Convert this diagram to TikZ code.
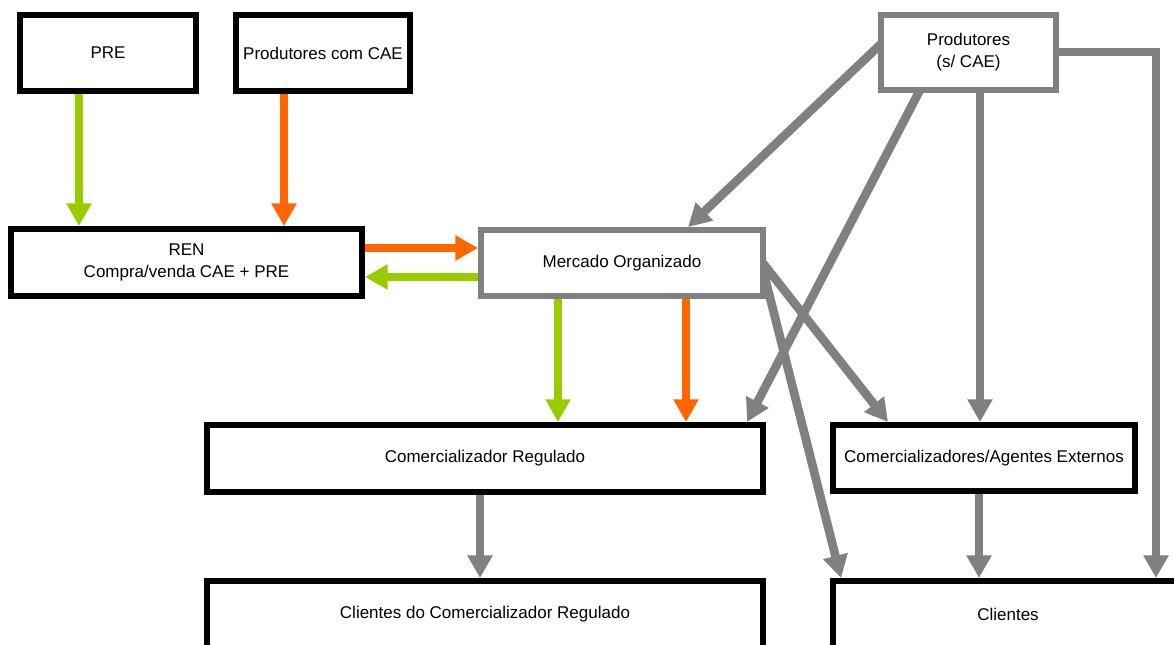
\documentclass[tikz,border=0pt]{standalone}
\usepackage{fontspec}
\setmainfont{Liberation Sans}
\usetikzlibrary{arrows.meta,calc,backgrounds}
\definecolor{cgreen}{HTML}{99CC00}
\definecolor{corange}{HTML}{FF6600}
\definecolor{cgray}{HTML}{808080}
\begin{document}
\begin{tikzpicture}[x=0.75pt,y=-0.75pt,
  box/.style={draw=black,line width=4.5pt,fill=white,inner sep=0pt,
    font=\fontsize{12.75}{16.5}\selectfont,align=center},
  graybox/.style={box,draw=cgray},
  flow/.style={line width=6pt,line join=miter,-{Triangle[width=18pt,length=17pt]}},
  greenflow/.style={flow,draw=cgreen},
  orangeflow/.style={flow,draw=corange},
  grayflow/.style={flow,draw=cgray,line width=6.5pt}
]
\useasboundingbox (0,0) rectangle (1174,645);
\clip (0,0) rectangle (1174,645);

\node[box,minimum width=132pt,minimum height=57pt] (pre) at (108,53) {PRE};
\node[box,minimum width=130.5pt,minimum height=57pt] (pcae) at (323,53) {Produtores com CAE};
\node[graybox,minimum width=131.25pt,minimum height=56.25pt] (prods) at (968.5,52.5) {Produtores\\(s/ CAE)};
\node[box,minimum width=263.25pt,minimum height=50.25pt] (ren) at (186.5,262.5) {REN\\Compra/venda CAE + PRE};
\node[graybox,minimum width=211.5pt,minimum height=49.5pt] (merc) at (622,263) {Mercado Organizado};
\node[box,minimum width=417pt,minimum height=50.25pt] (cr) at (485,458.5) {Comercializador Regulado};
\node[box,minimum width=226.5pt,minimum height=49.5pt] (cae) at (984,458) {Comercializadores/Agentes Externos};
\node[box,minimum width=417pt,minimum height=50.25pt] (clicr) at (485,614.5) {Clientes do Comercializador Regulado};
\node[box,minimum width=262.5pt,minimum height=50.25pt] (cli) at (1008,614.5) {Clientes};

\begin{scope}[on background layer]
\fill[white] (0,0) rectangle (1174,645);
\draw[greenflow] ($(pre.south)+(-29,0)$) -- ($(ren.north)+(-107.5,0)$);
\draw[orangeflow] ($(pcae.south)+(-39,0)$) -- ($(ren.north)+(97.5,0)$);
\draw[orangeflow] ($(ren.east)+(0,-14.5)$) -- ($(merc.west)+(0,-15)$);
\draw[greenflow] ($(merc.west)+(0,14)$) -- ($(ren.east)+(0,14.5)$);
\draw[greenflow] ($(merc.south)+(-64,0)$) -- ($(cr.north)+(73,0)$);
\draw[orangeflow] ($(merc.south)+(64,0)$) -- ($(cr.north)+(201,0)$);
\draw[grayflow] ($(prods.west)+(4,-9.5)$) -- ($(merc.north)+(66,0)$);
\draw[grayflow] ($(prods.south)+(-48.5,-3)$) -- ($(cr.north)+(262,0)$);
\draw[grayflow] ($(prods.south)+(11.5,0)$) -- ($(cae.north)+(-4,0)$);
\draw[grayflow] ($(prods.east)+(0,-0.5)$) -| ($(cli.north)+(148,0)$);
\draw[grayflow] ($(merc.east)+(-4,-1)$) -- ($(cae.north)+(-96,0)$);
\draw[grayflow] ($(merc.east)+(-4,3)$) -- ($(cli.north)+(-167,0)$);
\draw[grayflow] ($(cr.south)+(-5,0)$) -- ($(clicr.north)+(-5,0)$);
\draw[grayflow] ($(cae.south)+(-5,0)$) -- ($(cli.north)+(-29,0)$);
\end{scope}
\end{tikzpicture}
\end{document}
